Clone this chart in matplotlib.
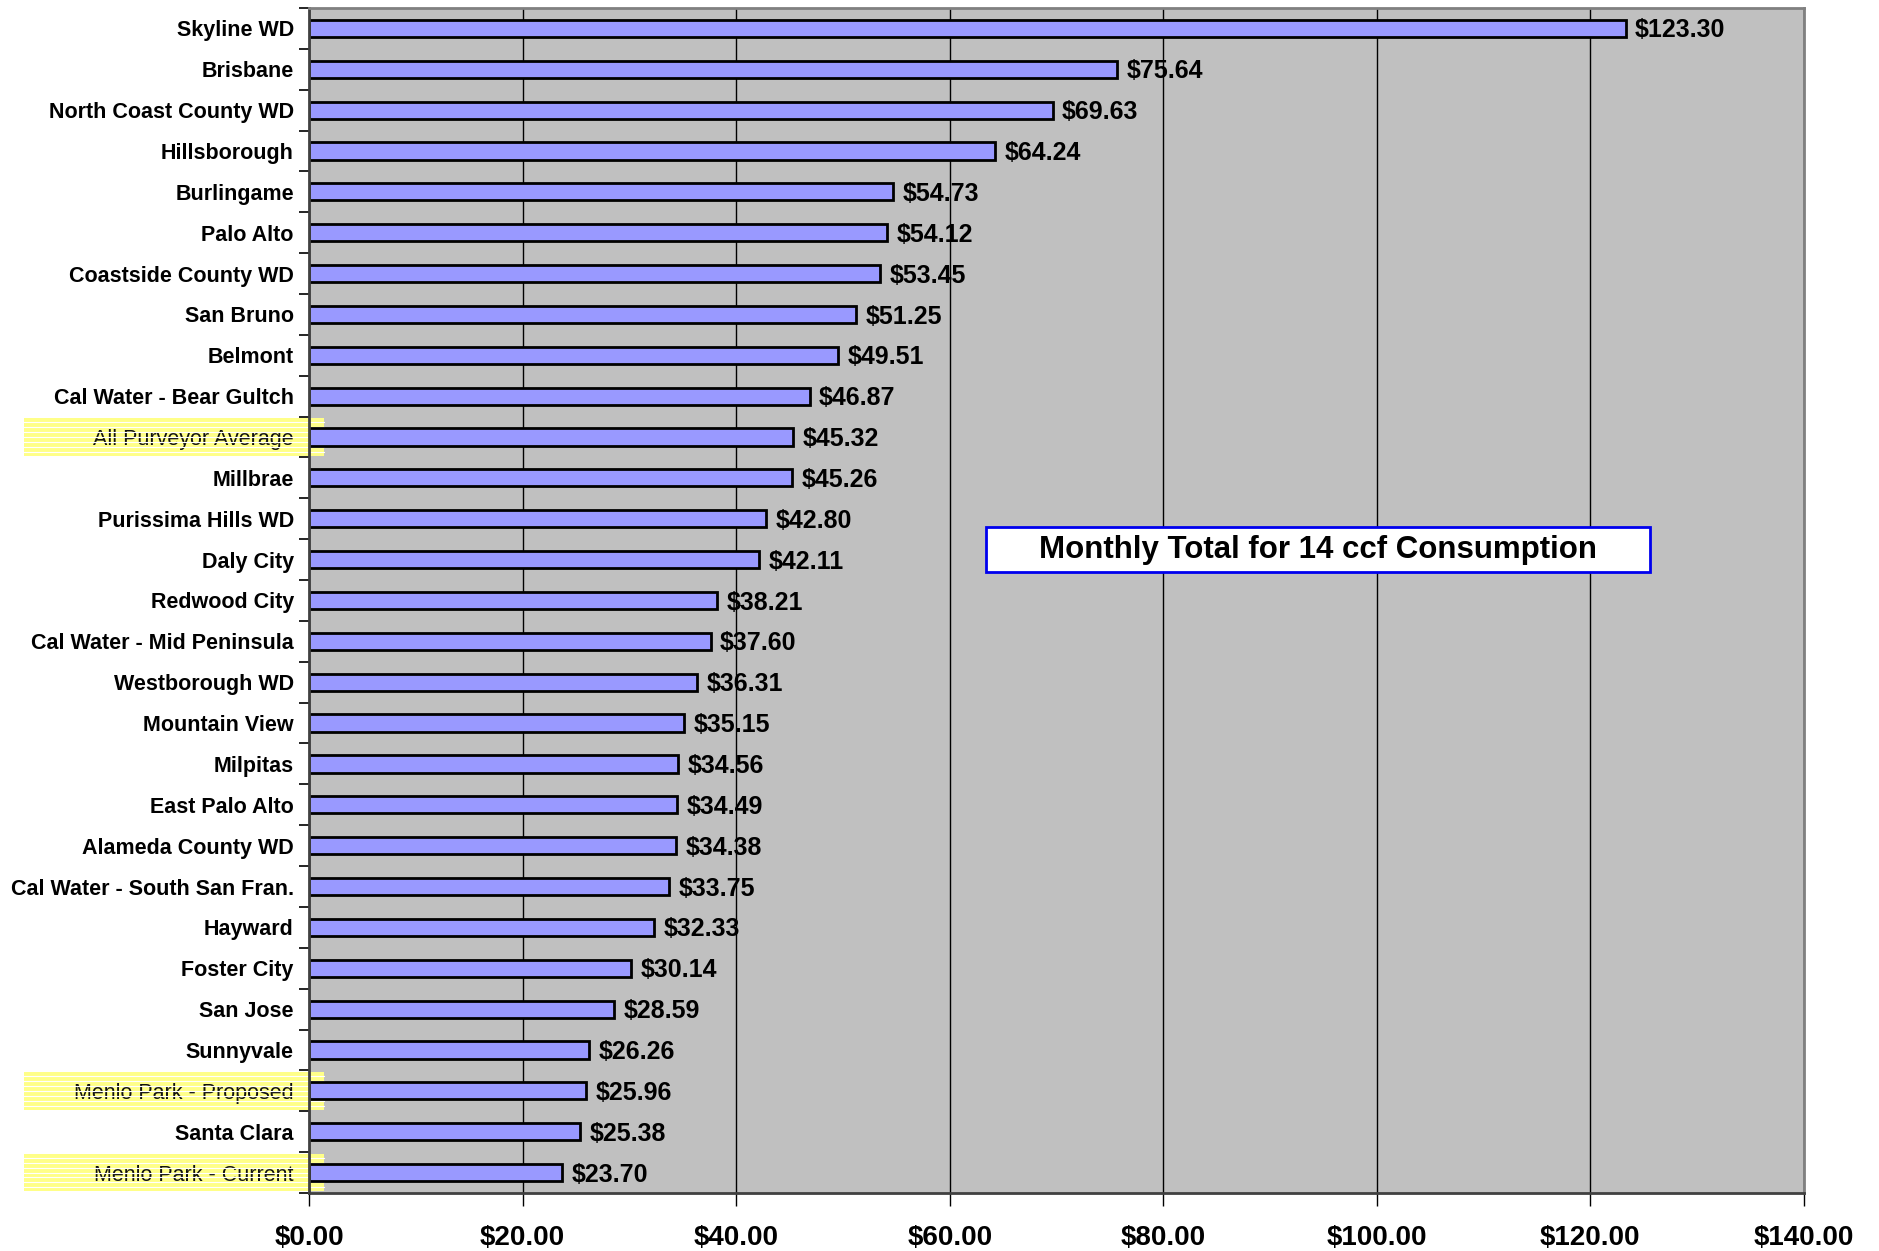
import matplotlib.pyplot as plt
import matplotlib.transforms as mtransforms
from matplotlib.patches import Rectangle

# names top to bottom, monthly bill for 14 ccf
agencias = ["Skyline WD", "Brisbane", "North Coast County WD", "Hillsborough",
            "Burlingame", "Palo Alto", "Coastside County WD", "San Bruno",
            "Belmont", "Cal Water - Bear Gultch", "All Purveyor Average",
            "Millbrae", "Purissima Hills WD", "Daly City", "Redwood City",
            "Cal Water - Mid Peninsula", "Westborough WD", "Mountain View",
            "Milpitas", "East Palo Alto", "Alameda County WD",
            "Cal Water - South San Fran.", "Hayward", "Foster City",
            "San Jose", "Sunnyvale", "Menlo Park - Proposed", "Santa Clara",
            "Menlo Park - Current"]
montos = [123.30, 75.64, 69.63, 64.24, 54.73, 54.12, 53.45, 51.25, 49.51,
          46.87, 45.32, 45.26, 42.80, 42.11, 38.21, 37.60, 36.31, 35.15,
          34.56, 34.49, 34.38, 33.75, 32.33, 30.14, 28.59, 26.26, 25.96,
          25.38, 23.70]
resaltados = ["All Purveyor Average", "Menlo Park - Proposed", "Menlo Park - Current"]
ticks_x = [0, 20, 40, 60, 80, 100, 120, 140]

plt.rcParams['font.family'] = ['Liberation Sans', 'DejaVu Sans']

fig = plt.figure(figsize=(18.79, 12.51), dpi=100)
ax = fig.add_axes([0.1645, 0.0464, 0.7955, 0.9472])
ax.set_facecolor('#C0C0C0')

pos = list(range(len(agencias)))
ax.barh(pos, montos, height=0.42, color='#9999FF', edgecolor='black',
        linewidth=2, zorder=2)
for y, v in zip(pos, montos):
    ax.text(v + 0.9, y + 0.05, "$%.2f" % v, va='center', ha='left',
            fontsize=18, fontweight='bold', zorder=4)

ax.set_xlim(0, 140)
ax.set_ylim(len(agencias) - 0.5, -0.5)
ax.set_xticks(ticks_x)
ax.set_xticklabels(["$%.2f" % t for t in ticks_x], fontsize=20, fontweight='bold')
ax.xaxis.grid(True, color='black', linewidth=1)
ax.set_axisbelow(True)
ax.tick_params(axis='x', length=9, width=1, pad=14)

ax.set_yticks(pos)
etiquetas = ax.set_yticklabels(agencias, fontsize=15.5, fontweight='bold')
ax.set_yticks([p - 0.5 for p in pos] + [len(agencias) - 0.5], minor=True)
ax.tick_params(axis='y', which='major', length=0, pad=11)
ax.tick_params(axis='y', which='minor', length=7, width=1.2)

for lado in ['top', 'right']:
    ax.spines[lado].set_color('#808080')
    ax.spines[lado].set_linewidth(2)
for lado in ['left', 'bottom']:
    ax.spines[lado].set_color('#404040')
    ax.spines[lado].set_linewidth(2)

# highlighted rows (yellow striped band behind the label)
trans = mtransforms.blended_transform_factory(fig.transFigure, ax.transData)
for nombre in resaltados:
    i = agencias.index(nombre)
    ax.add_patch(Rectangle((24 / 1879, i - 0.46), 300 / 1879, 0.92,
                           transform=trans, facecolor='#FFFF88',
                           edgecolor='none', clip_on=False, zorder=0.5))
    for k in range(7):
        yy = i - 0.36 + k * 0.12
        ax.plot([24 / 1879, 324 / 1879], [yy, yy], transform=trans,
                color='white', linewidth=0.8, clip_on=False, zorder=0.6)
for t in etiquetas:
    if t.get_text() in resaltados:
        t.set_fontweight('normal')
        t.set_color('#111111')

# caption box
fig.patches.append(Rectangle((986 / 1879, 1 - 572 / 1251), 664 / 1879, 45 / 1251,
                             transform=fig.transFigure, facecolor='white',
                             edgecolor='#0000EE', linewidth=2, zorder=5))
fig.text(1318 / 1879, 1 - 550 / 1251, "Monthly Total for 14 ccf Consumption",
         ha='center', va='center', fontsize=22.5, fontweight='bold', zorder=6)

fig.savefig('out.png', dpi=100)
